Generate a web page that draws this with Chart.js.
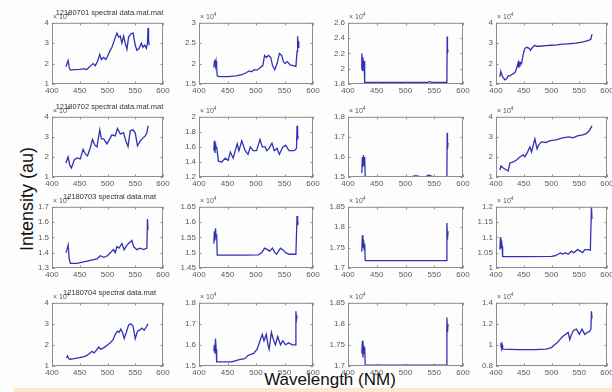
<!DOCTYPE html>
<html>
<head>
<meta charset="utf-8">
<script src="https://cdn.jsdelivr.net/npm/chart.js@4.4.0/dist/chart.umd.min.js"></script>
<style>
  body { margin: 0; width: 612px; height: 392px; background: #fdfdfd; position: relative; overflow: hidden;
         font-family: "Liberation Sans", Arial, sans-serif; }
  canvas { position: absolute; }
  .exp { position: absolute; font-size: 7px; color: #555; white-space: nowrap; line-height: 1; }
  .exp sup { font-size: 5px; }
  .ttl { position: absolute; font-size: 7.5px; color: #333; white-space: nowrap; text-align: center; line-height: 1; }
  .ylab { position: absolute; left: 27px; top: 199px; font-size: 18px; color: #111; white-space: nowrap;
          transform: translate(-50%, -50%) rotate(-90deg); }
  .xlab { position: absolute; left: 330px; top: 379px; font-size: 17px; color: #111; white-space: nowrap;
          line-height: 1; transform: translate(-50%, -50%); }
  .strip { position: absolute; left: 14px; right: 0; top: 388px; height: 4px; background: #fbe8cf; }
</style>
</head>
<body>
<div class="strip"></div>
<div class="ylab">Intensity (au)</div>
<div class="xlab">Wavelength (NM)</div>
<script>
// titles of the first column
const titles = ['12180701 spectral data.mat.mat', '12180702 spectral data.mat.mat',
                '12180703 spectral data.mat', '12180704 spectral data.mat'];

const xTicks = [400, 450, 500, 550, 600];

// y axis ticks for each subplot (values x 10^4)
const yTicks = [
  [[1, 2, 3, 4], [1.5, 2, 2.5, 3], [1.8, 2, 2.2, 2.4, 2.6], [1, 2, 3, 4]],
  [[1, 2, 3, 4], [1.2, 1.4, 1.6, 1.8, 2], [1.5, 1.6, 1.7, 1.8], [1, 2, 3, 4]],
  [[1.3, 1.4, 1.5, 1.6, 1.7], [1.45, 1.5, 1.55, 1.6, 1.65], [1.7, 1.75, 1.8, 1.85], [1, 1.05, 1.1, 1.15, 1.2]],
  [[1, 2, 3, 4], [1.5, 1.6, 1.7, 1.8], [1.7, 1.75, 1.8, 1.85], [0.8, 1, 1.2, 1.4]]
];

// row 1
const wl11 = [425,427,429,431,433,440,450,458,462,466,470,474,478,482,486,489,493,497,500,504,508,513,517,520,523,526,529,532,535,538,542,546,550,553,557,561,564,567,570,572,573,574,575];
const in11 = [1.85,2.0,2.15,1.8,1.68,1.7,1.72,1.75,1.7,1.8,1.9,2.0,1.9,2.1,2.45,2.2,2.3,2.2,2.35,2.6,2.8,3.2,3.5,3.3,3.35,3.0,3.35,3.0,2.7,3.3,3.45,3.5,2.9,2.65,2.75,3.0,2.8,2.9,2.75,3.0,3.75,3.2,2.9];
const wl12 = [426,427,428,429,430,431,432,435,450,465,475,482,488,492,497,502,507,512,515,518,522,526,529,533,537,541,545,548,551,555,560,565,570,572,573,574,575];
const in12 = [1.9,2.05,2.1,1.95,2.05,1.9,1.7,1.68,1.68,1.7,1.73,1.77,1.82,1.8,1.85,1.84,1.9,1.95,2.2,2.15,2.2,2.15,1.95,1.85,2.0,2.25,2.2,2.05,2.0,2.05,1.97,1.95,1.93,2.3,2.67,2.4,2.55];
const wl13 = [423,424,425,426,427,428,429,440,500,538,542,546,560,572,572.5,573,574];
const in13 = [2.0,2.2,1.98,2.15,2.02,2.1,1.82,1.82,1.82,1.82,1.83,1.82,1.82,1.82,2.42,2.2,2.25];
const wl14 = [407,408,409,412,416,419,422,425,428,431,434,437,440,441,442,443,444,446,449,452,455,460,462,466,470,473,479,490,500,510,520,530,544,555,562,568,571,573];
const in14 = [1.35,1.55,1.6,1.35,1.2,1.25,1.4,1.4,1.45,1.5,1.55,1.75,2.05,1.8,2.1,1.85,2.05,2.0,2.45,2.75,2.8,2.75,2.65,2.8,2.9,2.85,2.85,2.88,2.9,2.92,2.95,2.97,3.0,3.05,3.1,3.15,3.2,3.45];

// row 2
const wl21 = [425,429,432,435,440,445,451,456,460,464,469,473,477,481,486,489,493,499,504,508,514,518,523,529,533,537,541,546,550,554,559,564,568,571,573];
const in21 = [1.7,2.0,1.6,1.45,1.85,1.95,1.9,2.38,2.15,2.05,2.46,2.87,2.6,2.5,3.35,2.9,2.9,2.65,2.9,3.1,3.05,3.42,3.15,3.2,2.8,2.52,3.3,3.35,3.2,2.55,2.8,2.95,3.05,3.2,3.55];
const wl22 = [426,427,428,429,430,431,434,440,446,451,455,460,467,470,475,481,486,490,495,501,507,511,516,519,523,528,532,537,541,547,552,558,567,571,572,573,574];
const in22 = [1.55,1.68,1.52,1.65,1.58,1.6,1.41,1.4,1.45,1.42,1.53,1.45,1.64,1.55,1.68,1.55,1.5,1.6,1.55,1.55,1.7,1.6,1.6,1.55,1.58,1.65,1.55,1.58,1.5,1.6,1.62,1.55,1.55,1.58,1.88,1.7,1.75];
const wl23 = [424,425,426,427,428,429,430,440,510,515,520,525,535,540,545,550,572,572.5,573,574];
const in23 = [1.52,1.6,1.55,1.61,1.56,1.6,1.5,1.5,1.5,1.505,1.505,1.502,1.5,1.51,1.505,1.5,1.5,1.72,1.64,1.67];
const wl24 = [407,409,413,419,422,425,431,437,443,449,452,456,461,464,470,474,477,482,490,496,508,520,532,538,547,556,562,568,573];
const in24 = [1.35,1.55,1.45,1.35,1.3,1.7,1.75,1.85,2.0,2.1,2.0,2.2,2.5,2.25,2.9,2.4,2.6,2.75,2.72,2.8,2.85,2.95,3.0,2.95,3.05,3.1,3.15,3.3,3.55];

// row 3
const wl31 = [425,427,429,431,433,445,457,469,481,487,493,500,505,511,514,517,521,526,530,535,541,544,547,553,559,565,571,572,573];
const in31 = [1.4,1.42,1.45,1.36,1.33,1.33,1.34,1.35,1.36,1.38,1.37,1.38,1.4,1.42,1.4,1.44,1.43,1.46,1.42,1.45,1.47,1.48,1.44,1.42,1.43,1.42,1.43,1.62,1.55];
const wl32 = [426,427,428,429,430,431,432,450,480,504,510,515,520,524,529,533,536,543,547,552,558,570,572,573,574];
const in32 = [1.53,1.57,1.54,1.58,1.55,1.56,1.492,1.492,1.492,1.493,1.5,1.515,1.51,1.505,1.515,1.5,1.495,1.515,1.51,1.5,1.495,1.495,1.62,1.59,1.6];
const wl33 = [424,425,426,427,428,429,430,500,571,572,573,574];
const in33 = [1.74,1.78,1.75,1.77,1.745,1.76,1.718,1.718,1.718,1.81,1.77,1.79];
const wl34 = [407,408,409,410,411,412,450,500,506,512,516,520,525,530,536,540,547,552,556,560,566,570,572,573];
const in34 = [1.06,1.1,1.065,1.09,1.07,1.037,1.037,1.038,1.04,1.045,1.05,1.045,1.05,1.045,1.055,1.05,1.06,1.055,1.05,1.06,1.06,1.058,1.2,1.16];

// row 4
const wl41 = [426,428,430,433,440,450,458,463,468,472,476,480,484,488,492,496,500,505,510,514,518,521,524,527,530,534,538,542,546,550,554,558,562,566,570,573];
const in41 = [1.4,1.48,1.35,1.32,1.35,1.4,1.45,1.5,1.6,1.7,1.62,1.75,1.9,1.8,1.85,1.92,2.0,2.1,2.25,2.5,2.65,2.6,2.75,2.6,2.3,2.6,2.95,3.0,2.9,2.3,2.65,2.7,2.8,2.7,2.85,3.0];
const wl42 = [426,427,428,429,430,431,440,457,471,480,486,491,496,502,507,511,514,518,521,523,527,530,534,538,543,547,552,557,564,569,570,571,572];
const in42 = [1.57,1.6,1.56,1.63,1.58,1.52,1.52,1.52,1.53,1.535,1.55,1.555,1.56,1.58,1.62,1.65,1.62,1.65,1.6,1.58,1.66,1.63,1.6,1.64,1.6,1.62,1.6,1.61,1.6,1.6,1.76,1.72,1.74];
const wl43 = [424,425,426,427,428,429,430,500,571,572,573,574];
const in43 = [1.73,1.76,1.72,1.75,1.73,1.745,1.702,1.702,1.702,1.815,1.78,1.8];
const wl44 = [408,409,410,411,412,440,470,490,500,505,510,515,520,525,530,533,536,540,545,550,555,560,565,569,571,572,573];
const in44 = [0.98,1.02,0.97,1.0,0.96,0.955,0.955,0.96,0.975,1.0,1.02,1.05,1.08,1.1,1.12,1.05,1.1,1.14,1.15,1.1,1.15,1.1,1.12,1.13,1.15,1.32,1.25];

const series = [
  [[wl11, in11], [wl12, in12], [wl13, in13], [wl14, in14]],
  [[wl21, in21], [wl22, in22], [wl23, in23], [wl24, in24]],
  [[wl31, in31], [wl32, in32], [wl33, in33], [wl34, in34]],
  [[wl41, in41], [wl42, in42], [wl43, in43], [wl44, in44]]
];

// subplot boxes (pixels)
const colLeft = [52, 199, 348, 496], colWidth = [111, 114, 115, 111];
const rowTop = [21, 115, 205, 301], rowHeight = [63, 62, 63, 65];
const padL = 28, padT = 6, padR = 10, padB = 14;

const tickFont = { family: '"Liberation Sans", Arial, sans-serif', size: 8 };
const tickColor = '#5a5a5a';

// MATLAB style box with inward ticks
const boxPlugin = {
  id: 'matlabBox',
  afterDatasetsDraw(chart) {
    const { ctx, chartArea: a, scales: { x, y } } = chart;
    ctx.save();
    ctx.strokeStyle = '#8d8d8d';
    ctx.lineWidth = 1;
    ctx.strokeRect(a.left + 0.5, a.top + 0.5, a.right - a.left - 1, a.bottom - a.top - 1);
    ctx.beginPath();
    x.ticks.forEach(t => {
      const px = Math.round(x.getPixelForValue(t.value)) + 0.5;
      ctx.moveTo(px, a.bottom); ctx.lineTo(px, a.bottom - 2.5);
      ctx.moveTo(px, a.top); ctx.lineTo(px, a.top + 2.5);
    });
    y.ticks.forEach(t => {
      const py = Math.round(y.getPixelForValue(t.value)) + 0.5;
      ctx.moveTo(a.left, py); ctx.lineTo(a.left + 2.5, py);
      ctx.moveTo(a.right, py); ctx.lineTo(a.right - 2.5, py);
    });
    ctx.stroke();
    ctx.restore();
  }
};

for (let r = 0; r < 4; r++) {
  for (let c = 0; c < 4; c++) {
    const w = colWidth[c] + padL + padR, h = rowHeight[r] + padT + padB;
    const cv = document.createElement('canvas');
    cv.width = w; cv.height = h;
    cv.style.left = (colLeft[c] - padL) + 'px';
    cv.style.top = (rowTop[r] - padT) + 'px';
    cv.style.width = w + 'px'; cv.style.height = h + 'px';
    document.body.appendChild(cv);

    const exp = document.createElement('div');
    exp.className = 'exp';
    exp.innerHTML = '&times; 10<sup>4</sup>';
    exp.style.left = (colLeft[c] + 1) + 'px';
    exp.style.top = (rowTop[r] - 9) + 'px';
    document.body.appendChild(exp);

    if (c === 0) {
      const t = document.createElement('div');
      t.className = 'ttl';
      t.textContent = titles[r];
      t.style.left = (colLeft[c] + 2) + 'px';
      t.style.width = colWidth[c] + 'px';
      t.style.top = (rowTop[r] - 12) + 'px';
      document.body.appendChild(t);
    }

    const [wl, val] = series[r][c];
    const ticks = yTicks[r][c];
    new Chart(cv, {
      type: 'line',
      data: {
        datasets: [{
          data: wl.map((x, i) => ({ x: x, y: val[i] })),
          borderColor: '#3131b4',
          borderWidth: 1.3,
          pointRadius: 0,
          tension: 0,
          fill: false
        }]
      },
      options: {
        responsive: false,
        animation: false,
        devicePixelRatio: 1,
        layout: { padding: { top: padT, right: padR, left: 0, bottom: 0 } },
        plugins: { legend: { display: false }, tooltip: { enabled: false } },
        scales: {
          x: {
            type: 'linear', min: 400, max: 600,
            afterBuildTicks: s => { s.ticks = xTicks.map(v => ({ value: v })); },
            afterFit: s => { s.height = padB; },
            grid: { display: false, drawTicks: false },
            border: { display: false },
            ticks: { font: tickFont, color: tickColor, padding: 2, maxRotation: 0, autoSkip: false }
          },
          y: {
            type: 'linear', min: ticks[0], max: ticks[ticks.length - 1],
            afterBuildTicks: s => { s.ticks = ticks.map(v => ({ value: v })); },
            afterFit: s => { s.width = padL; },
            grid: { display: false, drawTicks: false },
            border: { display: false },
            ticks: { font: tickFont, color: tickColor, padding: 3, autoSkip: false,
                     callback: v => String(+v.toFixed(2)) }
          }
        }
      },
      plugins: [boxPlugin]
    });
  }
}
</script>
</body>
</html>
